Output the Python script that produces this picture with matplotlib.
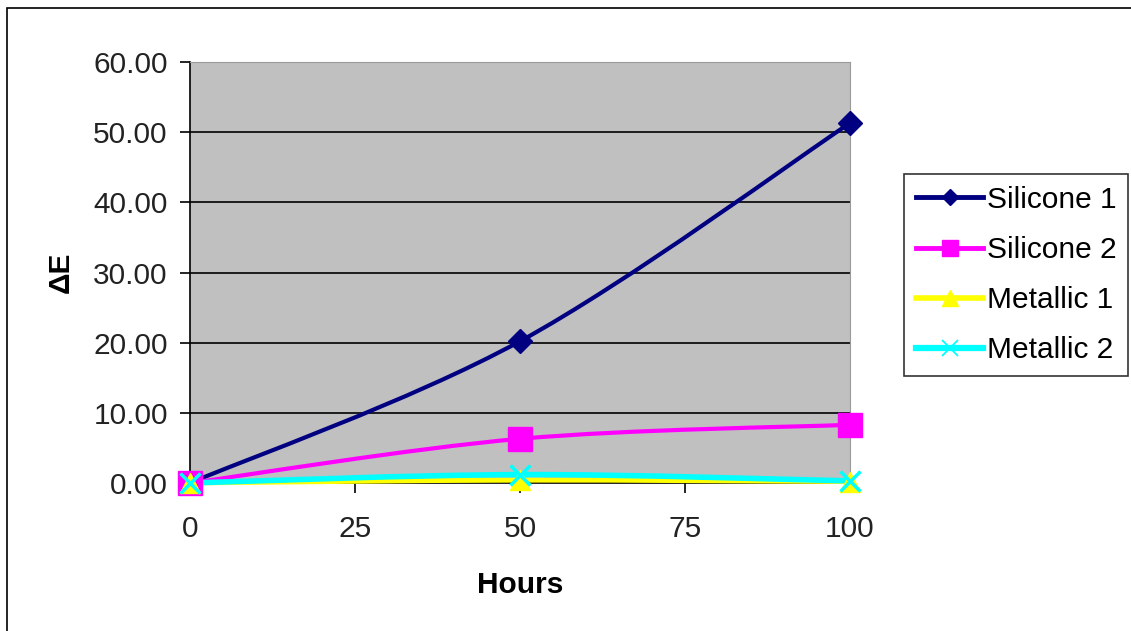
import numpy as np
import matplotlib
matplotlib.use("Agg")
import matplotlib.pyplot as plt
from matplotlib.path import Path
from matplotlib.patches import PathPatch, Rectangle
from matplotlib.lines import Line2D

plt.rcParams["font.family"] = ["Liberation Sans", "DejaVu Sans"]

hours = [0, 50, 100]
silicone_1 = [0.0, 20.2, 51.3]
silicone_2 = [0.0, 6.3, 8.3]
metallic_1 = [0.0, 0.4, 0.2]
metallic_2 = [0.0, 1.2, 0.3]

# name, values, colour, marker, marker size (plot / legend), line width
series = [
    ("Silicone 1", silicone_1, "#000080", "D", 12.5, 8.5, 3.0),
    ("Silicone 2", silicone_2, "#FF00FF", "s", 17, 12, 3.0),
    ("Metallic 1", metallic_1, "#FFFF00", "^", 14, 11, 3.5),
    ("Metallic 2", metallic_2, "#00FFFF", "x", 14, 11, 4.0),
]


def smooth_path(xs, ys):
    # Excel-style smoothed line: cubic bezier through the points
    pts = np.column_stack([xs, ys]).astype(float)
    n = len(pts)
    verts = [pts[0]]
    codes = [Path.MOVETO]
    for i in range(n - 1):
        p0 = pts[max(i - 1, 0)]
        p1 = pts[i]
        p2 = pts[i + 1]
        p3 = pts[min(i + 2, n - 1)]
        verts += [p1 + (p2 - p0) / 6, p2 - (p3 - p1) / 6, p2]
        codes += [Path.CURVE4] * 3
    return Path(verts, codes)


W, H = 1131, 631
fig = plt.figure(figsize=(W / 100, H / 100), dpi=100)
fig.patches.append(Rectangle((7 / W, -0.1), 1.2, 1 - 8 / H + 0.1,
                             transform=fig.transFigure, fill=False,
                             edgecolor="black", linewidth=1.2))

ax = fig.add_axes([190 / W, 1 - 483 / H, (850 - 190) / W, (483 - 62) / H])
ax.set_facecolor("#C0C0C0")
ax.set_xlim(0, 100)
ax.set_ylim(0, 60)
ax.set_xticks([0, 25, 50, 75, 100])
ax.set_yticks(np.arange(0, 61, 10))
ax.yaxis.set_major_formatter(matplotlib.ticker.FormatStrFormatter("%.2f"))
ax.grid(axis="y", color="black", linewidth=1.2)
ax.set_axisbelow(True)
for side in ["top", "right"]:
    ax.spines[side].set_color("#9a9a9a")
    ax.spines[side].set_linewidth(0.8)
for side in ["left", "bottom"]:
    ax.spines[side].set_color("black")
    ax.spines[side].set_linewidth(1.2)
ax.tick_params(axis="both", direction="out", length=7, width=1.2,
               labelsize=21.5, colors="black", labelcolor="#222222")
ax.tick_params(axis="x", pad=16)
ax.tick_params(axis="y", pad=9)

ax.set_xlabel("Hours", fontsize=21.5, fontweight="bold", labelpad=20)
ax.set_ylabel("\u0394E", fontsize=21.5, fontweight="bold", labelpad=13)

handles = []
for name, vals, color, marker, ms, lms, lw in series:
    patch = PathPatch(smooth_path(hours, vals), fill=False, edgecolor=color,
                      linewidth=lw, clip_on=False, zorder=3)
    ax.add_patch(patch)
    mew = 2.5 if marker == "x" else 1
    ax.plot(hours, vals, linestyle="none", marker=marker, markersize=ms,
            color=color, markeredgewidth=mew, clip_on=False, zorder=4)
    handles.append(Line2D([], [], color=color, linewidth=lw + 0.5,
                          marker=marker, markersize=lms,
                          markeredgewidth=1.3 if marker == "x" else 1,
                          label=name))

leg = fig.legend(handles=handles, loc="upper left",
                 bbox_to_anchor=(904 / W, 1 - 174 / H), borderaxespad=0,
                 fontsize=21.5, frameon=True, fancybox=False,
                 edgecolor="black", handlelength=2.25, handletextpad=0.12,
                 labelspacing=0.74, borderpad=0.4)
leg.get_frame().set_linewidth(1.2)

fig.savefig("out.png", dpi=100)
